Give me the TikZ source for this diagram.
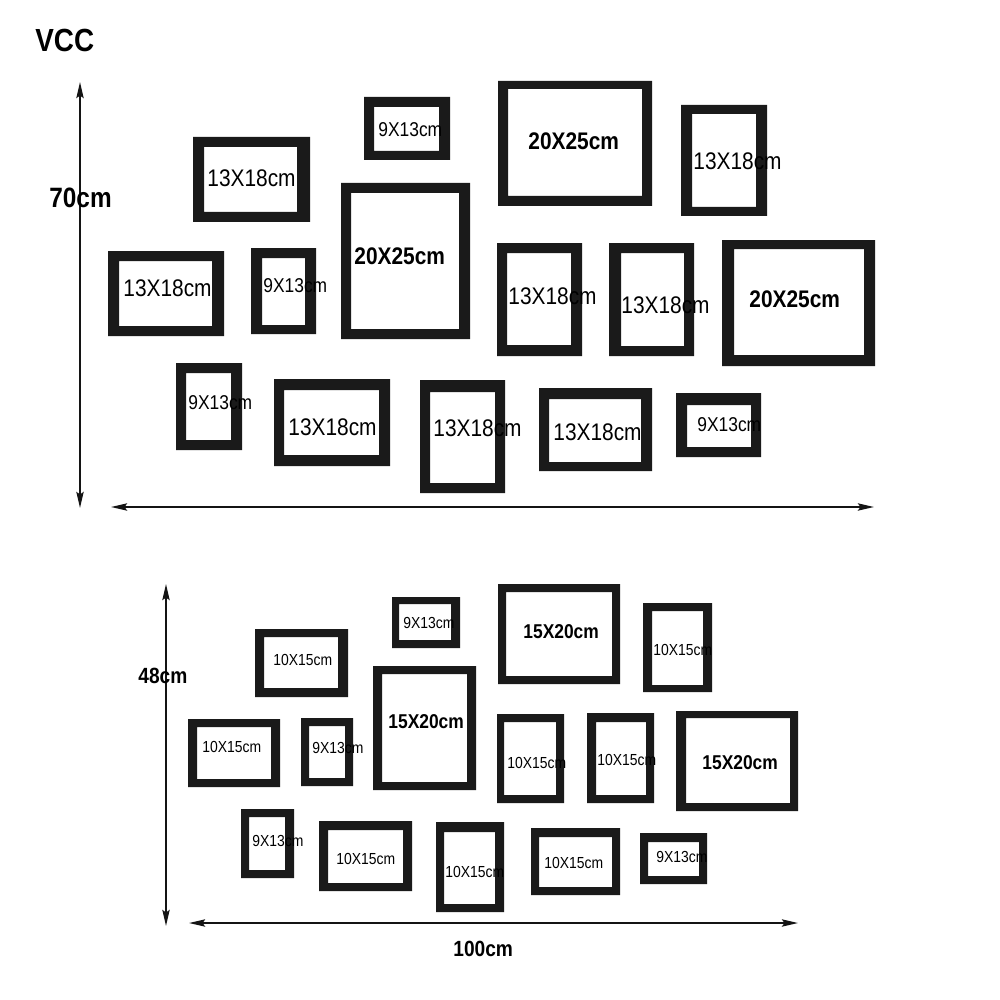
\documentclass[tikz,border=0pt]{standalone}
\usepackage{fontspec}
\setmainfont[FakeStretch=0.87]{Liberation Sans}
\usetikzlibrary{arrows.meta}

\begin{document}
\begin{tikzpicture}[x=0.5pt,y=0.5pt,yscale=-1,xscale=1,
  frame/.style={fill={rgb, 255:red, 26; green, 26; blue, 26 }, even odd rule},
  dim/.style={draw={rgb, 255:red, 20; green, 20; blue, 20 }, line width=1pt, {Stealth[length=8pt,width=3.6pt,inset=1.2pt]}-{Stealth[length=8pt,width=3.6pt,inset=1.2pt]}},
  big/.style={font=\fontsize{12}{14}\selectfont},
  bigb/.style={font=\fontsize{12}{14}\selectfont\bfseries},
  small/.style={font=\fontsize{10}{12}\selectfont},
  tiny/.style={font=\fontsize{8}{10}\selectfont},
  tinyb/.style={font=\fontsize{10}{12}\selectfont\bfseries},
  dimlabel/.style={font=\fontsize{14}{16}\selectfont\bfseries},
  dimlabelb/.style={font=\fontsize{11}{13}\selectfont\bfseries}]
\useasboundingbox (0,0) rectangle (1000,1000);

% Text Node
\draw (35,40) node [anchor=west][inner sep=0pt] (vcc) {\fontsize{16}{18}\selectfont\bfseries VCC};

%%% upper wall: 70cm
%Shape: Frame 13X18 [top left]
\fill [frame] (193,137) rectangle (310,222) (204,147) rectangle (297,212);
%Shape: Frame 9X13 [top]
\fill [frame] (364,97) rectangle (450,160) (374,107) rectangle (439,151);
%Shape: Frame 20X25 [centre]
\fill [frame] (341,183) rectangle (470,339) (351,193) rectangle (459,329);
%Shape: Frame 13X18 [left]
\fill [frame] (108,251) rectangle (224,336) (119,261) rectangle (212,326);
%Shape: Frame 9X13 [middle]
\fill [frame] (251,248) rectangle (316,334) (262,258) rectangle (305,325);
%Shape: Frame 9X13 [bottom left]
\fill [frame] (176,363) rectangle (242,450) (186,373) rectangle (231,440);
%Shape: Frame 13X18 [bottom]
\fill [frame] (274,379) rectangle (390,466) (284,390) rectangle (379,455);
%Shape: Frame 13X18 [bottom upright]
\fill [frame] (420,380) rectangle (505,493) (430,392) rectangle (495,483);
%Shape: Frame 20X25 [top]
\fill [frame] (498,81) rectangle (652,206) (508,89) rectangle (642,196);
%Shape: Frame 13X18 [top right]
\fill [frame] (681,105) rectangle (767,216) (692,114) rectangle (756,207);
%Shape: Frame 13X18 [middle right]
\fill [frame] (497,243) rectangle (582,356) (507,253) rectangle (571,345);
%Shape: Frame 13X18 [middle right 2]
\fill [frame] (609,243) rectangle (694,356) (621,253) rectangle (684,346);
%Shape: Frame 20X25 [right]
\fill [frame] (722,240) rectangle (875,366) (734,249) rectangle (864,355);
%Shape: Frame 13X18 [bottom right]
\fill [frame] (539,388) rectangle (652,471) (549,399) rectangle (641,462);
%Shape: Frame 9X13 [bottom right]
\fill [frame] (676,393) rectangle (761,457) (687,405) rectangle (751,447);

% Text Node
\draw (207,178) node [anchor=west][inner sep=0pt] [big] (a1) {13X18cm};
% Text Node
\draw (378,130) node [anchor=west][inner sep=0pt] [small] (a2) {9X13cm};
% Text Node
\draw (354,256) node [anchor=west][inner sep=0pt] [bigb] (a3) {20X25cm};
% Text Node
\draw (123,288) node [anchor=west][inner sep=0pt] [big] (a4) {13X18cm};
% Text Node
\draw (263,286) node [anchor=west][inner sep=0pt] [small] (a5) {9X13cm};
% Text Node
\draw (188,403) node [anchor=west][inner sep=0pt] [small] (a6) {9X13cm};
% Text Node
\draw (288,427) node [anchor=west][inner sep=0pt] [big] (a7) {13X18cm};
% Text Node
\draw (433,428) node [anchor=west][inner sep=0pt] [big] (a8) {13X18cm};
% Text Node
\draw (528,141) node [anchor=west][inner sep=0pt] [bigb] (a9) {20X25cm};
% Text Node
\draw (693,161) node [anchor=west][inner sep=0pt] [big] (a10) {13X18cm};
% Text Node
\draw (508,296) node [anchor=west][inner sep=0pt] [big] (a11) {13X18cm};
% Text Node
\draw (621,305) node [anchor=west][inner sep=0pt] [big] (a12) {13X18cm};
% Text Node
\draw (749,299) node [anchor=west][inner sep=0pt] [bigb] (a13) {20X25cm};
% Text Node
\draw (553,432) node [anchor=west][inner sep=0pt] [big] (a14) {13X18cm};
% Text Node
\draw (697,425) node [anchor=west][inner sep=0pt] [small] (a15) {9X13cm};

%Dimension arrows
\coordinate (hiTop) at (80,82);
\coordinate (hiBot) at (80,508);
\coordinate (wiL) at (111,507);
\coordinate (wiR) at (874,507);
\draw [dim] (hiTop) -- (hiBot);
\draw [dim] (wiL) -- (wiR);
% Text Node
\draw (49,198) node [anchor=west][inner sep=0pt] [dimlabel] (hi) {70cm};

%%% lower wall: 48cm
%Shape: Frame 10X15 [top left]
\fill [frame] (255,629) rectangle (348,697) (264,637) rectangle (338,688);
%Shape: Frame 9X13 [top]
\fill [frame] (392,597) rectangle (460,648) (399,604) rectangle (451,640);
%Shape: Frame 15X20 [centre]
\fill [frame] (373,666) rectangle (476,790) (382,674) rectangle (467,782);
%Shape: Frame 10X15 [left]
\fill [frame] (188,719) rectangle (280,787) (197,727) rectangle (271,779);
%Shape: Frame 9X13 [middle]
\fill [frame] (301,718) rectangle (353,786) (309,726) rectangle (345,778);
%Shape: Frame 9X13 [bottom left]
\fill [frame] (241,809) rectangle (294,878) (249,817) rectangle (285,870);
%Shape: Frame 10X15 [bottom]
\fill [frame] (319,821) rectangle (412,891) (328,830) rectangle (403,883);
%Shape: Frame 10X15 [bottom upright]
\fill [frame] (436,822) rectangle (504,912) (444,832) rectangle (495,904);
%Shape: Frame 15X20 [top]
\fill [frame] (498,584) rectangle (620,684) (506,592) rectangle (612,676);
%Shape: Frame 10X15 [top right]
\fill [frame] (643,603) rectangle (712,692) (652,611) rectangle (703,685);
%Shape: Frame 10X15 [middle right]
\fill [frame] (497,714) rectangle (564,803) (504,722) rectangle (556,795);
%Shape: Frame 10X15 [middle right 2]
\fill [frame] (587,713) rectangle (654,803) (596,722) rectangle (646,795);
%Shape: Frame 15X20 [right]
\fill [frame] (676,711) rectangle (798,811) (686,718) rectangle (790,803);
%Shape: Frame 10X15 [bottom right]
\fill [frame] (531,828) rectangle (620,895) (539,837) rectangle (612,887);
%Shape: Frame 9X13 [bottom right]
\fill [frame] (640,833) rectangle (707,884) (648,842) rectangle (699,876);

% Text Node
\draw (273,660) node [anchor=west][inner sep=0pt] [tiny] (b1) {10X15cm};
% Text Node
\draw (403,623) node [anchor=west][inner sep=0pt] [tiny] (b2) {9X13cm};
% Text Node
\draw (388,722) node [anchor=west][inner sep=0pt] [tinyb] (b3) {15X20cm};
% Text Node
\draw (202,747) node [anchor=west][inner sep=0pt] [tiny] (b4) {10X15cm};
% Text Node
\draw (312,748) node [anchor=west][inner sep=0pt] [tiny] (b5) {9X13cm};
% Text Node
\draw (252,841) node [anchor=west][inner sep=0pt] [tiny] (b6) {9X13cm};
% Text Node
\draw (336,859) node [anchor=west][inner sep=0pt] [tiny] (b7) {10X15cm};
% Text Node
\draw (445,872) node [anchor=west][inner sep=0pt] [tiny] (b8) {10X15cm};
% Text Node
\draw (523,632) node [anchor=west][inner sep=0pt] [tinyb] (b9) {15X20cm};
% Text Node
\draw (653,650) node [anchor=west][inner sep=0pt] [tiny] (b10) {10X15cm};
% Text Node
\draw (507,763) node [anchor=west][inner sep=0pt] [tiny] (b11) {10X15cm};
% Text Node
\draw (597,760) node [anchor=west][inner sep=0pt] [tiny] (b12) {10X15cm};
% Text Node
\draw (702,763) node [anchor=west][inner sep=0pt] [tinyb] (b13) {15X20cm};
% Text Node
\draw (544,863) node [anchor=west][inner sep=0pt] [tiny] (b14) {10X15cm};
% Text Node
\draw (656,857) node [anchor=west][inner sep=0pt] [tiny] (b15) {9X13cm};

%Dimension arrows
\coordinate (hoTop) at (166,584);
\coordinate (hoBot) at (166,926);
\coordinate (woL) at (189,923);
\coordinate (woR) at (798,923);
\draw [dim] (hoTop) -- (hoBot);
\draw [dim] (woL) -- (woR);
% Text Node
\draw (138,676) node [anchor=west][inner sep=0pt] [dimlabelb] (ho) {48cm};
% Text Node
\draw (453,949) node [anchor=west][inner sep=0pt] [dimlabelb] (wo) {100cm};

\end{tikzpicture}
\end{document}
